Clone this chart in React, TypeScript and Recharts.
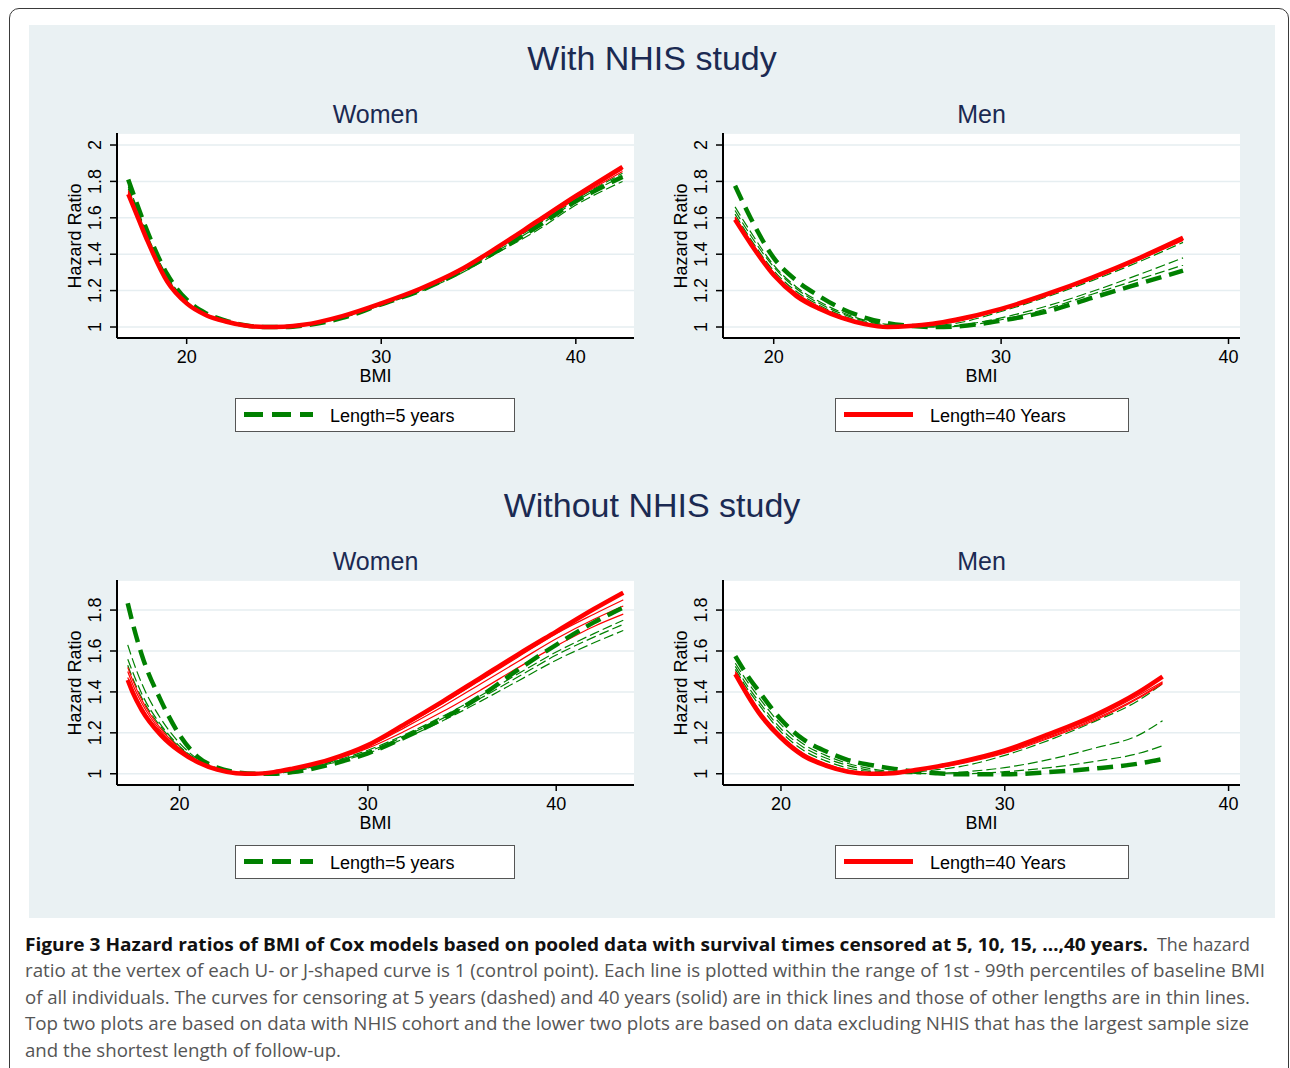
import { LineChart, Line, XAxis, YAxis, CartesianGrid } from "recharts";

// censoring lengths (years), one curve each
const LENGTHS = [5, 10, 15, 20, 25, 30, 35, 40];

// ---- With NHIS, Women ----
const BMI_WITH_WOMEN = [17.0, 17.5, 18, 19, 20, 21, 22, 23, 24, 25, 26, 28, 30, 32, 34, 36, 38, 40, 42.4];
const HR_WITH_WOMEN = [
  [1.81, 1.66, 1.52, 1.29, 1.15, 1.075, 1.035, 1.01, 1.0, 1.0, 1.008, 1.05, 1.125, 1.2, 1.3, 1.42, 1.55, 1.69, 1.825],
  [1.78, 1.64, 1.5, 1.28, 1.14, 1.07, 1.033, 1.009, 1.0, 1.0, 1.01, 1.05, 1.12, 1.195, 1.29, 1.41, 1.53, 1.67, 1.8],
  [1.77, 1.63, 1.49, 1.27, 1.14, 1.07, 1.032, 1.009, 1.0, 1.001, 1.01, 1.052, 1.125, 1.2, 1.3, 1.42, 1.55, 1.69, 1.83],
  [1.76, 1.62, 1.49, 1.27, 1.135, 1.068, 1.031, 1.008, 1.0, 1.001, 1.011, 1.055, 1.127, 1.205, 1.305, 1.43, 1.56, 1.7, 1.845],
  [1.75, 1.61, 1.48, 1.26, 1.135, 1.067, 1.031, 1.008, 1.0, 1.001, 1.011, 1.057, 1.128, 1.207, 1.305, 1.432, 1.565, 1.705, 1.855],
  [1.74, 1.61, 1.48, 1.26, 1.132, 1.066, 1.03, 1.008, 1.0, 1.002, 1.012, 1.058, 1.129, 1.208, 1.308, 1.435, 1.572, 1.71, 1.865],
  [1.735, 1.6, 1.47, 1.255, 1.13, 1.065, 1.03, 1.008, 1.0, 1.002, 1.012, 1.059, 1.13, 1.209, 1.309, 1.438, 1.576, 1.715, 1.872],
  [1.73, 1.6, 1.47, 1.25, 1.13, 1.065, 1.03, 1.008, 1.0, 1.002, 1.012, 1.06, 1.13, 1.21, 1.31, 1.44, 1.58, 1.72, 1.88],
];

// ---- With NHIS, Men ----
const BMI_WITH_MEN = [18.3, 19, 20, 21, 22, 23, 24, 25, 26, 27, 28, 30, 32, 34, 36, 38];
const HR_WITH_MEN = [
  [1.776, 1.595, 1.38, 1.255, 1.17, 1.1, 1.052, 1.022, 1.006, 1.0, 1.003, 1.035, 1.085, 1.16, 1.235, 1.31],
  [1.66, 1.52, 1.34, 1.22, 1.14, 1.08, 1.038, 1.014, 1.002, 1.0, 1.003, 1.04, 1.1, 1.18, 1.26, 1.34],
  [1.64, 1.5, 1.33, 1.21, 1.13, 1.073, 1.033, 1.01, 1.001, 1.001, 1.008, 1.05, 1.115, 1.195, 1.285, 1.38],
  [1.62, 1.48, 1.31, 1.195, 1.12, 1.063, 1.026, 1.006, 1.0, 1.006, 1.02, 1.085, 1.165, 1.255, 1.355, 1.465],
  [1.605, 1.47, 1.3, 1.185, 1.112, 1.058, 1.022, 1.004, 1.001, 1.01, 1.028, 1.093, 1.172, 1.263, 1.365, 1.475],
  [1.6, 1.465, 1.295, 1.18, 1.108, 1.055, 1.02, 1.002, 1.002, 1.013, 1.033, 1.096, 1.176, 1.267, 1.37, 1.48],
  [1.595, 1.46, 1.29, 1.175, 1.104, 1.052, 1.018, 1.001, 1.003, 1.015, 1.036, 1.098, 1.178, 1.27, 1.372, 1.485],
  [1.59, 1.455, 1.285, 1.17, 1.1, 1.05, 1.016, 1.0, 1.005, 1.018, 1.04, 1.1, 1.18, 1.272, 1.375, 1.49],
];

// ---- Without NHIS, Women ----
const BMI_WITHOUT_WOMEN = [17.25, 17.5, 18, 19, 20, 21, 22, 23, 24, 25, 26, 28, 30, 32, 34, 36, 38, 40, 42, 43.56];
const HR_WITHOUT_WOMEN = [
  [1.833, 1.74, 1.58, 1.36, 1.19, 1.08, 1.03, 1.008, 1.0, 1.0, 1.008, 1.045, 1.1, 1.18, 1.27, 1.38, 1.51, 1.63, 1.74, 1.813],
  [1.63, 1.56, 1.44, 1.27, 1.15, 1.07, 1.028, 1.007, 1.0, 1.002, 1.012, 1.05, 1.1, 1.175, 1.26, 1.355, 1.455, 1.555, 1.64, 1.7],
  [1.56, 1.5, 1.39, 1.24, 1.135, 1.064, 1.025, 1.006, 1.0, 1.003, 1.014, 1.055, 1.108, 1.185, 1.272, 1.37, 1.475, 1.58, 1.668, 1.73],
  [1.53, 1.47, 1.37, 1.23, 1.13, 1.062, 1.024, 1.005, 1.0, 1.004, 1.016, 1.058, 1.115, 1.193, 1.282, 1.382, 1.49, 1.595, 1.685, 1.75],
  [1.52, 1.46, 1.36, 1.22, 1.125, 1.06, 1.023, 1.005, 1.0, 1.005, 1.019, 1.063, 1.125, 1.21, 1.305, 1.41, 1.52, 1.625, 1.72, 1.78],
  [1.5, 1.44, 1.345, 1.21, 1.12, 1.058, 1.022, 1.004, 1.0, 1.006, 1.021, 1.066, 1.132, 1.228, 1.33, 1.44, 1.55, 1.66, 1.755, 1.82],
  [1.47, 1.415, 1.325, 1.2, 1.115, 1.056, 1.021, 1.004, 1.0, 1.007, 1.023, 1.068, 1.137, 1.238, 1.345, 1.458, 1.572, 1.685, 1.78, 1.85],
  [1.458, 1.4, 1.31, 1.19, 1.11, 1.055, 1.02, 1.003, 1.0, 1.008, 1.025, 1.07, 1.14, 1.245, 1.355, 1.47, 1.585, 1.695, 1.805, 1.885],
];

// ---- Without NHIS, Men ----
const BMI_WITHOUT_MEN = [17.96, 18.5, 19, 20, 21, 22, 23, 24, 25, 26, 27, 28, 30, 32, 34, 36, 37.05];
const HR_WITHOUT_MEN = [
  [1.575, 1.48, 1.405, 1.265, 1.168, 1.11, 1.067, 1.043, 1.025, 1.01, 1.002, 0.997, 0.997, 1.008, 1.025, 1.05, 1.072],
  [1.54, 1.45, 1.375, 1.24, 1.145, 1.09, 1.05, 1.025, 1.01, 1.003, 1.0, 1.0, 1.01, 1.03, 1.06, 1.1, 1.137],
  [1.525, 1.43, 1.355, 1.22, 1.13, 1.077, 1.04, 1.017, 1.005, 1.001, 1.002, 1.008, 1.03, 1.07, 1.125, 1.19, 1.259],
  [1.51, 1.415, 1.34, 1.205, 1.115, 1.063, 1.028, 1.01, 1.003, 1.008, 1.02, 1.035, 1.09, 1.165, 1.255, 1.36, 1.44],
  [1.5, 1.4, 1.315, 1.19, 1.1, 1.05, 1.017, 1.003, 1.002, 1.013, 1.028, 1.048, 1.1, 1.175, 1.26, 1.37, 1.44],
  [1.495, 1.395, 1.31, 1.185, 1.096, 1.046, 1.014, 1.002, 1.002, 1.015, 1.031, 1.052, 1.104, 1.18, 1.266, 1.375, 1.445],
  [1.49, 1.39, 1.305, 1.18, 1.092, 1.043, 1.012, 1.001, 1.003, 1.016, 1.034, 1.055, 1.108, 1.187, 1.273, 1.385, 1.45],
  [1.487, 1.385, 1.3, 1.175, 1.088, 1.04, 1.01, 1.0, 1.003, 1.018, 1.036, 1.058, 1.114, 1.195, 1.285, 1.4, 1.475],
];

const X_TICKS = [20, 30, 40];
const Y_TICKS_TOP = [1, 1.2, 1.4, 1.6, 1.8, 2];
const Y_TICKS_BOTTOM = [1, 1.2, 1.4, 1.6, 1.8];

const GREEN = "#008000";
const RED = "#ff0000";
const NAVY = "#1b2a52";
const BG = "#eaf1f3";
const FONT = "'Liberation Sans', Arial, Helvetica, sans-serif";

const Y_AXIS_W = 57;
const X_AXIS_H = 40;

function buildRows(bmi: number[], curves: number[][]) {
  return bmi.map((b, i) => {
    const row: Record<string, number> = { bmi: b };
    LENGTHS.forEach((len, k) => {
      row[`l${len}`] = curves[k][i];
    });
    return row;
  });
}

const RotatedTick = (props: any) => {
  const { x, y, payload } = props;
  return (
    <text
      x={x}
      y={y}
      transform={`rotate(-90 ${x} ${y})`}
      textAnchor="middle"
      fontSize={18}
      fill="#000"
      fontFamily={FONT}
    >
      {String(payload.value)}
    </text>
  );
};

interface PanelProps {
  bmi: number[];
  curves: number[][];
  xDomain: [number, number];
  yDomain: [number, number];
  yTicks: number[];
  left: number;
  right: number;
  top: number;
  bottom: number;
}

function Panel({ bmi, curves, xDomain, yDomain, yTicks, left, right, top, bottom }: PanelProps) {
  const data = buildRows(bmi, curves);
  const width = right - left + Y_AXIS_W + 10;
  const height = bottom - top + X_AXIS_H;
  // thin curves first, then the thick 5-year and 40-year curves on top
  const order = [10, 15, 20, 25, 30, 35, 5, 40];
  return (
    <div style={{ position: "absolute", left: left - Y_AXIS_W, top }}>
      <LineChart width={width} height={height} data={data} margin={{ top: 0, right: 10, bottom: 0, left: 0 }}>
        <CartesianGrid vertical={false} stroke="#e6eef1" strokeWidth={1.5} fill="#ffffff" fillOpacity={1} />
        <XAxis
          dataKey="bmi"
          type="number"
          domain={xDomain}
          ticks={X_TICKS}
          allowDataOverflow
          height={X_AXIS_H}
          axisLine={{ stroke: "#000", strokeWidth: 2 }}
          tickLine={{ stroke: "#000", strokeWidth: 1.5 }}
          tickSize={6}
          tickMargin={6}
          tick={{ fontSize: 18, fill: "#000", fontFamily: FONT }}
        />
        <YAxis
          type="number"
          domain={yDomain}
          ticks={yTicks}
          allowDataOverflow
          width={Y_AXIS_W}
          axisLine={{ stroke: "#000", strokeWidth: 2 }}
          tickLine={{ stroke: "#000", strokeWidth: 1.5 }}
          tickSize={7}
          tickMargin={9}
          tick={<RotatedTick />}
        />
        {order.map((len) => {
          const green = len <= 20;
          const thick = len === 5 || len === 40;
          return (
            <Line
              key={len}
              dataKey={`l${len}`}
              type="monotone"
              stroke={green ? GREEN : RED}
              strokeWidth={thick ? 4.5 : 1.2}
              strokeDasharray={green ? (thick ? "16 8" : "10 4") : undefined}
              dot={false}
              activeDot={false}
              isAnimationActive={false}
            />
          );
        })}
      </LineChart>
    </div>
  );
}

function Label({ x, y, size, color = "#000", text, rotate = false }: any) {
  return (
    <div
      style={{
        position: "absolute",
        left: x,
        top: y,
        transform: `translate(-50%, -50%)${rotate ? " rotate(-90deg)" : ""}`,
        fontSize: size,
        color,
        whiteSpace: "nowrap",
        lineHeight: 1,
      }}
    >
      {text}
    </div>
  );
}

function LegendBox({ left, top, width, kind }: { left: number; top: number; width: number; kind: "five" | "forty" }) {
  const five = kind === "five";
  return (
    <div
      style={{
        position: "absolute",
        left,
        top,
        width,
        height: 34,
        boxSizing: "border-box",
        background: "#fff",
        border: "1.5px solid #555",
      }}
    >
      <svg width={80} height={34} style={{ position: "absolute", left: 6, top: 0 }}>
        <line
          x1={2}
          x2={71}
          y1={15.5}
          y2={15.5}
          stroke={five ? GREEN : RED}
          strokeWidth={5}
          strokeDasharray={five ? "19 9" : undefined}
        />
      </svg>
      <div style={{ position: "absolute", left: 94, top: 8, fontSize: 18, lineHeight: 1, whiteSpace: "nowrap" }}>
        {five ? "Length=5 years" : "Length=40 Years"}
      </div>
    </div>
  );
}

const CAPTION_FONT = "'Open Sans', 'Noto Sans', sans-serif";

export default function App() {
  const rowOffset = 447;
  return (
    <div
      style={{
        position: "absolute",
        left: 0,
        top: 0,
        width: 1290,
        height: 1068,
        overflow: "hidden",
        background: "#fff",
        fontFamily: FONT,
      }}
    >
      {/* outer frame, runs past the bottom edge */}
      <div
        style={{
          position: "absolute",
          left: 9,
          top: 8,
          width: 1278,
          height: 1100,
          border: "1.5px solid #3a3a3a",
          borderRadius: 10,
        }}
      />
      {/* graph region */}
      <div style={{ position: "absolute", left: 29, top: 25, width: 1246, height: 893, background: BG }} />

      {[0, 1].map((r) => {
        const dy = r * rowOffset;
        const top = 133 + dy;
        const bottom = 338 + dy;
        return (
          <div key={r}>
            <Label x={652} y={58 + dy} size={34} color={NAVY} text={r === 0 ? "With NHIS study" : "Without NHIS study"} />
            <Label x={375.5} y={114 + dy} size={25} color={NAVY} text="Women" />
            <Label x={981.5} y={114 + dy} size={25} color={NAVY} text="Men" />
            <Label x={75} y={(top + bottom) / 2} size={18} text="Hazard Ratio" rotate />
            <Label x={681} y={(top + bottom) / 2} size={18} text="Hazard Ratio" rotate />
            <Label x={375.5} y={376 + dy} size={18} text="BMI" />
            <Label x={981.5} y={376 + dy} size={18} text="BMI" />
            <LegendBox left={235} top={398 + dy} width={280} kind="five" />
            <LegendBox left={835} top={398 + dy} width={294} kind="forty" />
          </div>
        );
      })}

      <Panel
        bmi={BMI_WITH_WOMEN}
        curves={HR_WITH_WOMEN}
        xDomain={[16.42, 42.99]}
        yDomain={[0.9396, 2.066]}
        yTicks={Y_TICKS_TOP}
        left={117}
        right={634}
        top={133}
        bottom={338}
      />
      <Panel
        bmi={BMI_WITH_MEN}
        curves={HR_WITH_MEN}
        xDomain={[17.77, 40.505]}
        yDomain={[0.9396, 2.066]}
        yTicks={Y_TICKS_TOP}
        left={723}
        right={1240}
        top={133}
        bottom={338}
      />
      <Panel
        bmi={BMI_WITHOUT_WOMEN}
        curves={HR_WITHOUT_WOMEN}
        xDomain={[16.68, 44.13]}
        yDomain={[0.945, 1.947]}
        yTicks={Y_TICKS_BOTTOM}
        left={117}
        right={634}
        top={580}
        bottom={785}
      />
      <Panel
        bmi={BMI_WITHOUT_MEN}
        curves={HR_WITHOUT_MEN}
        xDomain={[17.41, 40.51]}
        yDomain={[0.945, 1.947]}
        yTicks={Y_TICKS_BOTTOM}
        left={723}
        right={1240}
        top={580}
        bottom={785}
      />

      {/* caption */}
      <svg width={1290} height={1068} style={{ position: "absolute", left: 0, top: 0, pointerEvents: "none" }}>
        <g fontFamily={CAPTION_FONT} fontSize={18.5}>
          <text x={25} y={951} textLength={1123} lengthAdjust="spacingAndGlyphs" fontWeight={700} fill="#111">
            Figure 3 Hazard ratios of BMI of Cox models based on pooled data with survival times censored at 5, 10, 15, …,40 years.
          </text>
          <text x={1157} y={951} textLength={93} lengthAdjust="spacingAndGlyphs" fill="#555">
            The hazard
          </text>
          <text x={25} y={977} textLength={1240} lengthAdjust="spacingAndGlyphs" fill="#555">
            ratio at the vertex of each U- or J-shaped curve is 1 (control point). Each line is plotted within the range of 1st - 99th percentiles of baseline BMI
          </text>
          <text x={25} y={1004} textLength={1225} lengthAdjust="spacingAndGlyphs" fill="#555">
            of all individuals. The curves for censoring at 5 years (dashed) and 40 years (solid) are in thick lines and those of other lengths are in thin lines.
          </text>
          <text x={25} y={1030} textLength={1224} lengthAdjust="spacingAndGlyphs" fill="#555">
            Top two plots are based on data with NHIS cohort and the lower two plots are based on data excluding NHIS that has the largest sample size
          </text>
          <text x={25} y={1057} textLength={316} lengthAdjust="spacingAndGlyphs" fill="#555">
            and the shortest length of follow-up.
          </text>
        </g>
      </svg>
    </div>
  );
}
